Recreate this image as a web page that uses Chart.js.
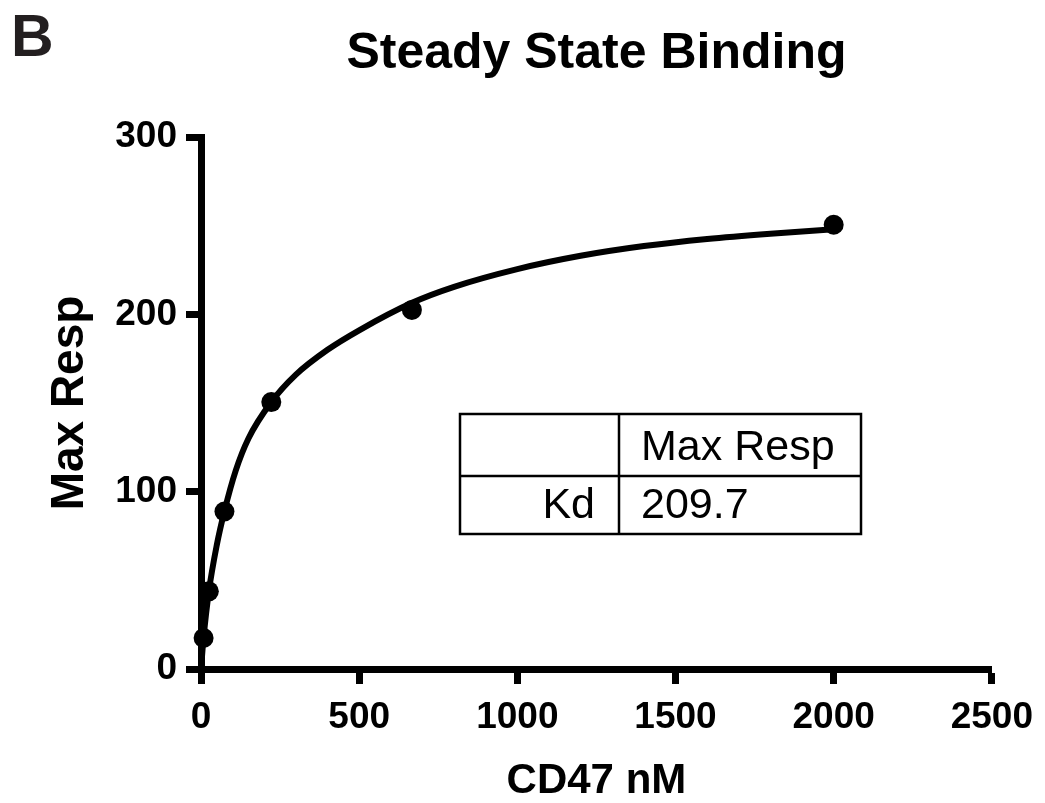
<!DOCTYPE html>
<html>
<head>
<meta charset="utf-8">
<script src="https://cdn.jsdelivr.net/npm/chart.js@4.4.0/dist/chart.umd.min.js"></script>
<style>
  html, body { margin: 0; padding: 0; background: #fff; }
</style>
</head>
<body>
<canvas id="myChart" width="1045" height="803"></canvas>
<script>
// measured points (CD47 nM vs max response)
var conc = [8.2, 24.7, 74.1, 222.2, 666.7, 2000];
var maxResp = [17.5, 43.8, 88.8, 150.5, 202.5, 250.5];
// fitted curve
var fitX = [0, 8, 25, 50, 74, 110, 150, 222, 300, 400, 500, 667, 800, 1000, 1200, 1400, 1600, 1800, 2000];
var fitY = [0, 17.5, 44, 70, 89, 112, 130, 150.5, 166, 180, 191, 206.5, 215.5, 225.5, 233, 238.5, 242.5, 245.5, 248];
// tick labels
var xTicks = [0, 500, 1000, 1500, 2000, 2500];
var yTicks = [0, 100, 200, 300];
// result table
var tableHead = ["", "Max Resp"];
var tableRow = ["Kd", "209.7"];

Chart.defaults.font.family = "'Liberation Sans', Arial, sans-serif";
Chart.defaults.color = "#000";

// title, panel letter and the fit table
const extras = {
  id: "extras",
  afterDraw(chart) {
    const ctx = chart.ctx;
    const area = chart.chartArea;
    ctx.save();
    ctx.fillStyle = "#231f20";
    ctx.font = "bold 59px 'Liberation Sans', Arial, sans-serif";
    ctx.textAlign = "left";
    ctx.textBaseline = "alphabetic";
    ctx.fillText("B", 11, 56);

    ctx.fillStyle = "#000";
    ctx.font = "bold 50px 'Liberation Sans', Arial, sans-serif";
    ctx.textAlign = "center";
    ctx.fillText("Steady State Binding", (area.left + area.right) / 2, 68);

    // table
    const l = 460, r = 861, t = 414, m = 476, b = 534, c = 619;
    ctx.strokeStyle = "#000";
    ctx.lineWidth = 2.5;
    ctx.strokeRect(l, t, r - l, b - t);
    ctx.beginPath();
    ctx.moveTo(l, m); ctx.lineTo(r, m);
    ctx.moveTo(c, t); ctx.lineTo(c, b);
    ctx.stroke();
    ctx.font = "43px 'Liberation Sans', Arial, sans-serif";
    ctx.textAlign = "right";
    ctx.fillText(tableHead[0], c - 24, 460);
    ctx.fillText(tableRow[0], c - 24, 518);
    ctx.textAlign = "left";
    ctx.fillText(tableHead[1], c + 22, 460);
    ctx.fillText(tableRow[1], c + 22, 518);
    ctx.restore();
  }
};

const data = {
  datasets: [
    {
      type: "scatter",
      data: conc.map((x, i) => ({ x: x, y: maxResp[i] })),
      backgroundColor: "#000",
      borderWidth: 0,
      pointRadius: 10,
      pointHoverRadius: 10,
      clip: false,
    },
    {
      type: "line",
      data: fitX.map((x, i) => ({ x: x, y: fitY[i] })),
      borderColor: "#000",
      borderWidth: 6,
      pointRadius: 0,
      fill: false,
      cubicInterpolationMode: "monotone",
      clip: false,
    },
  ],
};

const config = {
  type: "scatter",
  data,
  plugins: [extras],
  options: {
    responsive: false,
    animation: false,
    layout: { padding: { top: 137, right: 49, left: 0, bottom: 0 } },
    plugins: { legend: { display: false }, tooltip: { enabled: false } },
    scales: {
      x: {
        type: "linear",
        min: 0,
        max: 2500,
        afterBuildTicks: (s) => { s.ticks = xTicks.map((v) => ({ value: v })); },
        afterFit: (s) => { s.height = 134; },
        ticks: { font: { size: 37, weight: "bold" }, color: "#000", padding: 12, maxRotation: 0, callback: (v) => String(v) },
        grid: { drawOnChartArea: false, drawTicks: true, tickLength: 15, tickWidth: 7, tickColor: "#000" },
        border: { display: true, width: 7, color: "#000" },
        title: { display: true, text: "CD47 nM", font: { size: 42, weight: "bold", lineHeight: 1 }, padding: { top: 0, bottom: 1 } },
      },
      y: {
        type: "linear",
        min: 0,
        max: 300,
        afterBuildTicks: (s) => { s.ticks = yTicks.map((v) => ({ value: v })); },
        afterFit: (s) => { s.width = 201; },
        ticks: { font: { size: 37, weight: "bold" }, color: "#000", padding: 9, callback: (v) => String(v) },
        grid: { drawOnChartArea: false, drawTicks: true, tickLength: 15, tickWidth: 7, tickColor: "#000" },
        border: { display: true, width: 7, color: "#000" },
        title: { display: true, text: "Max Resp", font: { size: 46, weight: "bold", lineHeight: 1 }, padding: { top: 47, bottom: 0 } },
      },
    },
  },
};

const myChart = new Chart(document.getElementById("myChart"), config);
</script>
</body>
</html>
